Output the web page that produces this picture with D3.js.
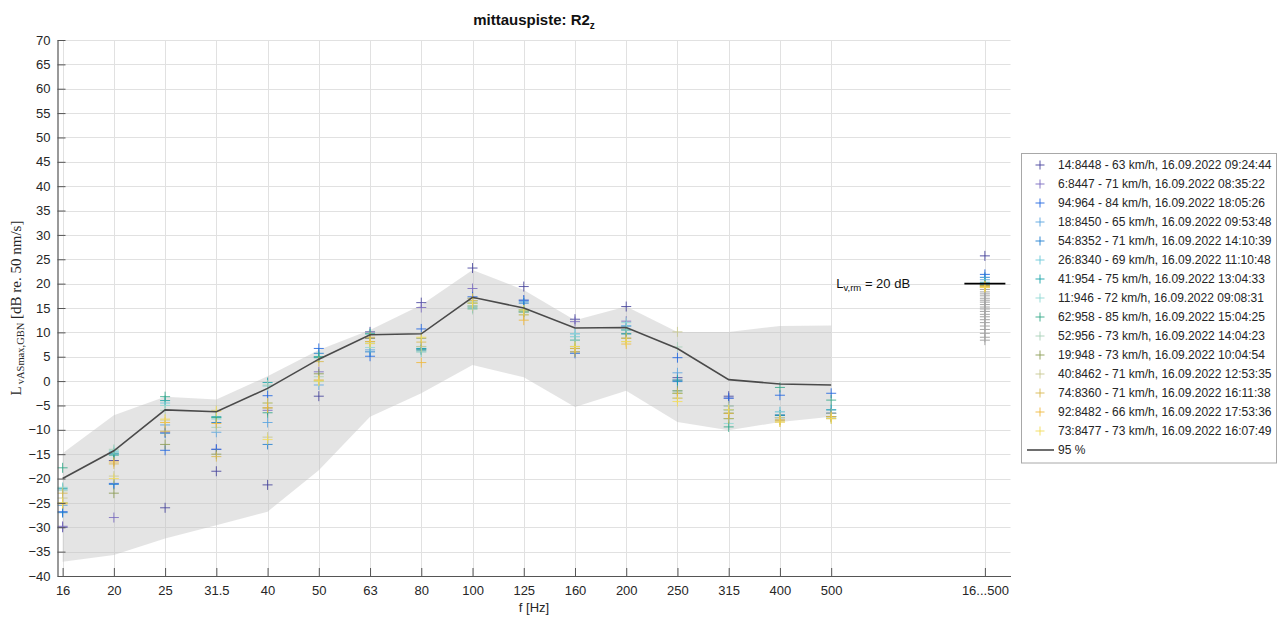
<!DOCTYPE html>
<html>
<head>
<meta charset="utf-8">
<script src="https://cdn.jsdelivr.net/npm/d3@7"></script>
<style>
  html, body { margin: 0; padding: 0; background: #fff; }
  svg { display: block; font-family: "Liberation Sans", Arial, sans-serif; }
</style>
</head>
<body>
<svg id="chart" width="1278" height="621"></svg>
<script>
// Third-octave bands (index 0..15) plus the overall value at index 18
const freqLabels = ["16", "20", "25", "31.5", "40", "50", "63", "80", "100", "125", "160", "200", "250", "315", "400", "500"];
const totalLabel = "16...500";
const totalIndex = 18;

const passLabels = [
  "14:8448 - 63 km/h, 16.09.2022 09:24:44",
  "6:8447 - 71 km/h, 16.09.2022 08:35:22",
  "94:964 - 84 km/h, 16.09.2022 18:05:26",
  "18:8450 - 65 km/h, 16.09.2022 09:53:48",
  "54:8352 - 71 km/h, 16.09.2022 14:10:39",
  "26:8340 - 69 km/h, 16.09.2022 11:10:48",
  "41:954 - 75 km/h, 16.09.2022 13:04:33",
  "11:946 - 72 km/h, 16.09.2022 09:08:31",
  "62:958 - 85 km/h, 16.09.2022 15:04:25",
  "52:956 - 73 km/h, 16.09.2022 14:04:23",
  "19:948 - 73 km/h, 16.09.2022 10:04:54",
  "40:8462 - 71 km/h, 16.09.2022 12:53:35",
  "74:8360 - 71 km/h, 16.09.2022 16:11:38",
  "92:8482 - 66 km/h, 16.09.2022 17:53:36",
  "73:8477 - 73 km/h, 16.09.2022 16:07:49"
];

const passColors = [
  "#47449c", "#7a6cc0", "#2166e0", "#5aa4e0", "#1f7fd0",
  "#6cc8d8", "#1aa3a8", "#8fd8d4", "#33a888", "#a8d0b8",
  "#8c9c55", "#c8c890", "#d8b850", "#f0b83c", "#f2dc5a"
];

// Band levels per passage, dB re. 50 nm/s (one row per passage, 16 bands)
const bandLevels = [
  [-30.0, -16.3, -26.0, -18.5, -21.3, -3.1, 10.1, 16.1, 23.2, 19.4, 12.7, 15.3,  0.7, -3.1, -7.0, -6.6],
  [-29.8, -28.0, -10.5, -14.0,  -6.0,  1.9,  8.8, 15.1, 19.0, 16.6, 12.2, 12.3,  0.2, -3.5, -7.5, -7.3],
  [-26.8, -21.0, -14.2, -14.0,  -3.0,  6.7,  5.1, 10.7, 17.3, 16.6,  5.7, 11.3,  4.8, -3.5, -2.9, -2.5],
  [-25.5, -15.0,  -9.0, -10.5,  -8.5, -0.8,  6.4,  6.7, 17.0, 16.3,  9.7, 10.5,  1.7, -5.1, -6.3, -5.9],
  [-27.0, -21.2, -10.7,  -8.5, -13.0,  5.7,  6.0,  6.4, 16.5, 16.0,  6.0,  9.7, -0.1, -5.9, -7.0, -6.6],
  [-22.3, -14.5,  -4.5,  -7.5,  -1.0,  5.0,  9.7,  6.0, 16.0, 14.6,  9.1, 11.3, -2.0, -6.6, -7.5, -7.3],
  [-22.0, -14.8,  -4.0,  -7.3,  -0.3,  4.8,  8.1,  6.7, 15.4, 14.2,  8.4, 10.5,  0.2, -7.7, -7.0, -5.9],
  [-21.8, -14.2,  -5.0,  -7.8,  -4.5, -0.1,  6.9,  7.1, 16.5, 14.6,  9.7, 12.0, -3.5, -8.7, -6.3, -7.3],
  [-17.8, -15.2,  -3.2,  -7.5,  -6.5,  5.0,  9.7,  6.4, 15.0, 14.2,  7.1,  9.7, -2.5, -9.4, -1.3, -3.9],
  [-22.5, -14.0,  -6.0,  -9.5,  -0.8,  0.9,  7.7,  6.0, 14.7, 13.6,  8.4, 10.5,  7.0, -5.9, -7.5, -7.7],
  [-25.0, -23.0, -13.0, -15.0,  -5.5,  1.5,  8.8,  8.8, 16.0, 14.6,  6.7,  8.8, -2.0, -6.6, -8.0, -7.3],
  [-24.0, -19.5,  -8.0,  -6.0, -11.5,  0.2,  8.1,  7.1, 15.4, 14.2,  7.1,  8.1, 10.1, -5.1, -7.5, -6.6],
  [-23.0, -17.0, -10.3, -15.5,  -4.5,  4.0,  9.0,  8.0, 17.0, 13.6,  6.7,  8.8, -2.5, -7.7, -8.4, -7.7],
  [-25.2, -16.6,  -8.5,  -8.7,  -5.5,  0.2,  8.1,  3.8, 16.5, 12.5,  6.0,  7.6, -3.5, -6.6, -8.0, -7.3],
  [-25.0, -20.0,  -7.8,  -6.2, -12.0,  0.0,  7.7,  9.0, 16.0, 14.6,  7.1,  8.1, -4.2, -5.9, -8.4, -7.7]
];

// Overall 16...500 Hz level of each passage
const passTotals = [25.7, 19.8, 21.9, 20.8, 21.3, 20.3, 20.1, 19.9, 19.7, 19.5, 19.6, 19.4, 19.3, 19.5, 19.2];

// Overall levels of the other passages (grey)
const otherTotals = [19.2, 18.8, 18.3, 17.9, 17.5, 17.0, 16.6, 16.2, 15.7, 15.2, 14.8, 14.3, 13.7, 13.2, 12.6, 12.0, 11.3, 10.6, 9.8, 9.0, 8.4];

// 95 % level and its spread
const p95Levels = [-20.0, -14.3, -5.9, -6.3, -1.5, 4.5, 9.5, 9.7, 17.2, 15.0, 10.9, 11.0, 6.7, 0.3, -0.6, -0.8];
const spreadUpper = [-14.8, -7.0, -3.2, -3.8, 1.0, 6.4, 10.5, 15.6, 22.8, 18.7, 12.5, 15.3, 10.1, 10.1, 11.3, 11.4];
const spreadLower = [-37.1, -35.7, -32.3, -29.6, -26.8, -18.3, -7.3, -2.5, 3.3, 0.8, -5.3, -2.0, -8.4, -10.1, -8.4, -7.3];

const limitLevel = 20;
const yTicks = d3.range(-40, 71, 5);

const svg = d3.select("#chart");
const x = d3.scaleLinear().domain([-0.1, 18.5]).range([57.5, 1010.5]);
const y = d3.scaleLinear().domain([-40, 70]).range([576, 40]);
const xTickIdx = d3.range(freqLabels.length).concat([totalIndex]);

// grid
const grid = svg.append("g").attr("stroke", "#e1e1e1").attr("stroke-width", 1);
grid.selectAll("line.h").data(yTicks).join("line")
  .attr("x1", x.range()[0]).attr("x2", x.range()[1])
  .attr("y1", d => Math.round(y(d)) + 0.5).attr("y2", d => Math.round(y(d)) + 0.5);
grid.selectAll("line.v").data(xTickIdx).join("line")
  .attr("x1", d => Math.round(x(d)) + 0.5).attr("x2", d => Math.round(x(d)) + 0.5)
  .attr("y1", y.range()[1]).attr("y2", y.range()[0]);

// spread band
const bandIdx = d3.range(freqLabels.length);
const area = d3.area().x(i => x(i)).y0(i => y(spreadLower[i])).y1(i => y(spreadUpper[i]));
svg.append("path").datum(bandIdx).attr("d", area)
  .attr("fill", "#c4c4c4").attr("fill-opacity", 0.45);

// plus markers
const plus = (g, cx, cy, r) => {
  g.append("path").attr("d", `M${cx - r},${cy}H${cx + r}M${cx},${cy - r}V${cy + r}`);
};

const marks = svg.append("g").attr("fill", "none").attr("stroke-width", 1);
bandLevels.forEach((row, s) => {
  const g = marks.append("g").attr("stroke", passColors[s]).attr("stroke-opacity", 0.85);
  row.forEach((v, i) => plus(g, x(i), y(v), 5));
});

// overall column
const gOther = marks.append("g").attr("stroke", "#a6a6a6");
otherTotals.forEach(v => plus(gOther, x(totalIndex), y(v), 5));
passTotals.forEach((v, s) => {
  const g = marks.append("g").attr("stroke", passColors[s]).attr("stroke-opacity", 0.9);
  plus(g, x(totalIndex), y(v), 5);
});

// 95 % line
svg.append("path").datum(bandIdx)
  .attr("d", d3.line().x(i => x(i)).y(i => y(p95Levels[i])))
  .attr("fill", "none").attr("stroke", "#4a4a4a").attr("stroke-width", 1.6);

// limit value
svg.append("line")
  .attr("x1", x(totalIndex - 0.4)).attr("x2", x(totalIndex + 0.4))
  .attr("y1", y(limitLevel)).attr("y2", y(limitLevel))
  .attr("stroke", "#000").attr("stroke-width", 1.8);
const lim = svg.append("text").attr("x", x(15.1)).attr("y", y(limitLevel) + 4.5)
  .attr("font-size", 13).attr("fill", "#111");
lim.append("tspan").text("L");
lim.append("tspan").attr("font-size", 9.5).attr("dy", 3).text("v,rm");
lim.append("tspan").attr("dy", -3).text(" = 20 dB");

// axes
const yAxis = svg.append("g").attr("transform", `translate(${x.range()[0]},0)`)
  .call(d3.axisLeft(y).tickValues(yTicks).tickSize(-8).tickSizeOuter(0).tickPadding(7));
const xAxis = svg.append("g").attr("transform", `translate(0,${y.range()[0]})`)
  .call(d3.axisBottom(x).tickValues(xTickIdx).tickSize(-8).tickSizeOuter(0).tickPadding(10)
    .tickFormat(i => i === totalIndex ? totalLabel : freqLabels[i]));
[yAxis, xAxis].forEach(a => {
  a.select(".domain").attr("stroke", "#555").attr("stroke-width", 1.2);
  a.selectAll(".tick line").attr("stroke", "#555");
  a.selectAll(".tick text").attr("font-size", 13).attr("fill", "#262626")
    .attr("font-family", "'Liberation Sans', Arial, sans-serif");
});

// title
const title = svg.append("text").attr("x", 534).attr("y", 25).attr("text-anchor", "middle")
  .attr("font-size", 15).attr("font-weight", "bold").attr("fill", "#111");
title.append("tspan").text("mittauspiste: R2");
title.append("tspan").attr("font-size", 10).attr("dy", 4).text("z");

// axis labels
svg.append("text").attr("x", 534).attr("y", 612).attr("text-anchor", "middle")
  .attr("font-size", 13).attr("fill", "#262626").text("f [Hz]");

const yl = svg.append("text").attr("transform", "translate(21,308) rotate(-90)")
  .attr("text-anchor", "middle").attr("font-family", "'Liberation Serif', 'Times New Roman', serif")
  .attr("font-size", 15).attr("fill", "#262626");
yl.append("tspan").text("L");
yl.append("tspan").attr("font-size", 10.5).attr("dy", 3).attr("dx", 2).text("vASmax,GBN");
yl.append("tspan").attr("dy", -3).text(" [dB re. 50 nm/s]");

// legend
const lg = svg.append("g");
lg.append("rect").attr("x", 1021.5).attr("y", 153.5).attr("width", 255).attr("height", 309.5)
  .attr("fill", "#fff").attr("stroke", "#a8a8a8").attr("stroke-width", 1);
passLabels.forEach((label, s) => {
  const ly = 165 + s * 19;
  const g = lg.append("g").attr("stroke", passColors[s]).attr("fill", "none").attr("stroke-opacity", 0.9);
  plus(g, 1040, ly, 4.5);
  lg.append("text").attr("x", 1058).attr("y", ly).attr("dominant-baseline", "central")
    .attr("font-size", 12).attr("fill", "#262626").text(label);
});
const ly95 = 165 + passLabels.length * 19;
lg.append("line").attr("x1", 1027).attr("x2", 1054).attr("y1", ly95).attr("y2", ly95)
  .attr("stroke", "#4a4a4a").attr("stroke-width", 1.6);
lg.append("text").attr("x", 1058).attr("y", ly95).attr("dominant-baseline", "central")
  .attr("font-size", 12).attr("fill", "#262626").text("95 %");
</script>
</body>
</html>
